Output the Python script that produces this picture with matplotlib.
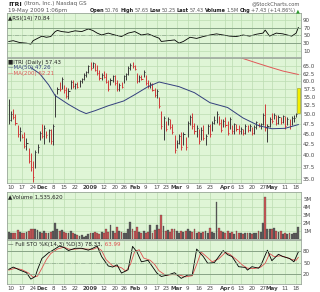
import matplotlib
matplotlib.use('Agg')
import matplotlib.pyplot as plt
import numpy as np
import pandas as pd

# trading calendar 7-Nov-2008 .. 19-May-2009
holidays = ['2008-11-27', '2008-12-25', '2009-01-01', '2009-01-19',
            '2009-02-16', '2009-04-10']
days = pd.bdate_range('2008-11-07', '2009-05-19', freq='C', holidays=holidays)

high = [54.3, 51.0, 51.4, 50.0, 47.1, 46.7, 45.0, 45.4, 43.8, 41.5,
        40.4, 38.7, 41.2, 42.6, 45.7, 47.4, 47.1, 45.7, 46.2, 46.2,
        47.4, 55.8, 58.2, 59.7, 61.4, 58.8, 58.2, 57.7, 60.4, 60.4,
        59.3, 59.8, 60.4, 61.0, 62.7, 63.3, 65.6, 66.8, 66.8, 66.2,
        65.6, 63.8, 62.7, 63.3, 62.7, 60.4, 61.0, 62.1, 62.1, 60.4,
        59.3, 59.8, 62.1, 62.7, 65.0, 66.2, 66.8, 65.6, 62.7, 62.1,
        62.1, 63.8, 62.1, 60.4, 59.8, 59.3, 57.7, 57.3, 55.1, 51.0,
        49.6, 48.3, 49.2, 48.7, 47.4, 44.6, 43.4, 45.0, 45.4, 45.4,
        44.2, 48.3, 49.9, 50.4, 47.8, 47.1, 46.2, 46.6, 47.1, 45.0,
        47.4, 47.4, 48.3, 49.6, 51.0, 49.6, 48.7, 48.7, 49.2, 48.3,
        49.2, 47.1, 47.8, 47.4, 47.1, 46.6, 46.2, 47.4, 47.1, 47.4,
        46.6, 47.1, 48.3, 47.8, 47.8, 50.4, 52.8, 47.4, 49.2, 50.4,
        50.4, 49.9, 49.9, 49.2, 49.9, 49.6, 49.2, 48.7, 49.6, 49.8,
        50.4, 57.65]
low = [47.4, 48.3, 48.7, 47.1, 44.2, 43.1, 43.8, 41.5, 41.2, 38.3,
       36.7, 34.4, 37.3, 40.4, 43.4, 43.8, 42.6, 44.0, 42.9, 42.6,
       42.3, 49.2, 55.8, 56.8, 57.3, 56.3, 54.8, 54.3, 57.3, 57.7,
       57.3, 57.7, 58.2, 59.3, 60.4, 61.4, 62.7, 63.8, 64.4, 63.3,
       62.1, 60.4, 60.4, 61.0, 59.3, 56.8, 58.8, 59.7, 58.8, 56.8,
       56.8, 57.7, 59.3, 60.4, 62.1, 63.8, 64.4, 63.8, 59.3, 59.7,
       60.4, 61.4, 58.8, 57.7, 57.7, 56.8, 55.1, 54.8, 51.9, 46.2,
       43.4, 45.7, 47.1, 46.2, 45.0, 40.4, 41.5, 42.6, 41.2, 42.3,
       41.2, 44.2, 47.1, 46.2, 45.0, 44.2, 42.6, 43.4, 43.4, 42.3,
       45.0, 44.2, 45.7, 47.4, 47.8, 47.1, 45.4, 46.6, 46.6, 44.6,
       46.2, 45.0, 45.0, 45.7, 45.0, 45.0, 44.6, 45.0, 45.4, 45.7,
       44.6, 45.0, 46.2, 46.6, 46.2, 47.1, 45.7, 42.9, 46.6, 47.8,
       48.7, 47.1, 47.4, 47.4, 47.8, 46.2, 47.1, 46.2, 47.1, 48.0,
       49.2, 50.25]
close = [48.5, 50.2, 49.3, 47.6, 44.8, 45.5, 44.2, 42.0, 42.8, 38.8,
         37.4, 35.5, 40.6, 41.9, 45.2, 44.3, 46.4, 44.6, 45.8, 43.1,
         46.9, 55.2, 57.6, 57.4, 60.6, 57.0, 55.4, 56.9, 59.8, 58.4,
         58.9, 58.2, 60.0, 60.6, 62.2, 62.9, 65.1, 64.4, 66.2, 63.8,
         62.6, 61.0, 62.1, 61.5, 59.8, 57.3, 60.5, 61.6, 59.3, 57.4,
         58.6, 58.0, 61.7, 62.3, 64.6, 65.7, 65.0, 64.2, 60.0, 61.4,
         60.8, 63.2, 59.4, 58.3, 59.2, 57.2, 55.6, 56.7, 52.4, 46.8,
         48.9, 46.2, 48.6, 46.7, 45.4, 41.0, 42.8, 44.5, 41.8, 44.9,
         41.7, 47.8, 49.4, 47.0, 45.6, 46.5, 43.2, 46.0, 44.0, 44.5,
         46.9, 45.0, 47.8, 48.5, 50.2, 47.6, 46.0, 48.2, 47.1, 45.2,
         48.7, 45.6, 47.3, 46.2, 45.5, 46.2, 45.1, 46.9, 45.9, 47.0,
         45.2, 46.6, 47.9, 47.0, 47.5, 49.9, 46.5, 47.0, 48.8, 48.3,
         49.8, 47.6, 49.3, 47.9, 49.5, 46.8, 48.6, 46.8, 48.9, 49.0,
         50.0, 57.43]
volume_m = [0.9, 0.8, 0.7, 0.8, 1.1, 0.9, 0.7, 0.8, 0.9, 1.0,
            1.2, 1.3, 1.3, 1.1, 0.9, 0.8, 1.0, 0.7, 0.8, 0.9,
            1.0, 2.0, 1.3, 1.0, 1.1, 0.9, 0.8, 0.7, 1.0, 0.8,
            0.6, 0.5, 0.4, 0.5, 0.3, 0.4, 0.6, 0.7, 0.8, 0.9,
            0.7, 0.6, 0.9, 0.8, 1.3, 0.9, 1.7, 1.0, 0.8, 1.5,
            1.0, 0.9, 0.8, 0.7, 1.2, 2.1, 1.2, 1.0, 1.5, 0.9,
            0.8, 1.0, 0.7, 0.9, 1.7, 0.8, 1.1, 1.7, 1.2, 3.0,
            1.6, 1.0, 1.1, 0.9, 1.2, 1.3, 1.0, 0.8, 1.0, 0.9,
            1.0, 1.3, 1.0, 0.9, 1.2, 0.8, 0.9, 0.8, 0.9, 1.0,
            0.8, 1.4, 0.9, 0.8, 4.6, 1.4, 1.0, 0.9, 0.8, 1.0,
            0.7, 0.9, 0.6, 1.0, 0.7, 0.8, 0.6, 0.7, 0.8, 0.7,
            0.6, 0.8, 0.7, 1.0, 0.9, 2.0, 5.2, 1.3, 1.2, 1.2,
            1.4, 1.0, 0.9, 1.0, 0.6, 0.7, 0.6, 0.7, 0.6, 0.8,
            0.8, 1.54]

ma50_day = [10, 14, 18, 21, 27, 32, 35, 39, 45, 52, 57, 63, 68, 77, 84, 91,
            99, 106, 113, 119, 125, 131]
ma50_val = [64.6, 62.5, 58.8, 55.4, 52.8, 51.0, 50.2, 51.0, 52.4, 53.8, 55.7,
            58.2, 59.7, 58.2, 56.3, 53.3, 51.9, 49.0, 47.0, 46.2, 46.3, 47.26]
ma200_day = [100, 106, 112, 118, 124, 131]
ma200_val = [69.6, 67.9, 66.3, 64.8, 63.4, 62.21]

rsi_day = [0, 2, 5, 8, 10, 11, 13, 15, 17, 19, 21, 22, 24, 27, 30, 33, 36, 38,
           40, 42, 45, 48, 51, 54, 57, 60, 63, 66, 68, 69, 72, 75, 77, 79, 82,
           85, 88, 91, 94, 97, 100, 103, 106, 109, 112, 115, 116, 118, 121,
           124, 128, 130, 131]
rsi_val = [34, 36, 31, 29.5, 27, 36, 42, 48, 45, 47, 60, 63, 60, 58, 62, 60, 67,
           63, 56, 51, 56, 51, 47, 56, 60, 51, 54, 47, 42.5, 34, 36, 38, 29.5,
           34, 45, 42, 47, 51, 54, 51, 48, 47, 51, 48, 53, 56, 64, 48, 56, 54,
           48, 56, 70.84]

k_day = [0, 2, 5, 8, 10, 12, 13, 15, 18, 20, 23, 25, 27, 30, 33, 36, 38, 40,
         42, 45, 47, 49, 51, 54, 56, 58, 60, 63, 65, 67, 69, 72, 75, 78, 81,
         83, 85, 88, 90, 93, 97, 99, 101, 104, 107, 108, 110, 113, 114, 117,
         119, 122, 124, 127, 129, 131]
k_val = [32, 38, 30, 23, 6, 13, 31, 61, 76, 83, 94, 90, 82, 88, 88, 83, 88, 94,
         66, 41, 38, 44, 22, 31, 93, 78, 52, 56, 39, 22, 13, 17, 23, 8, 17, 17,
         86, 66, 48, 50, 82, 71, 66, 39, 37, 30, 39, 35, 42, 83, 55, 72, 66,
         61, 52, 78.33]
d_day = [0, 3, 6, 9, 11, 13, 15, 17, 19, 22, 25, 27, 29, 32, 35, 38, 40, 42,
         44, 47, 49, 51, 53, 55, 57, 59, 61, 64, 66, 68, 71, 74, 77, 80, 83,
         85, 87, 89, 92, 95, 98, 100, 103, 106, 108, 111, 114, 116, 118, 120,
         123, 125, 128, 130, 131]
d_val = [30, 35, 31, 22, 11, 14, 35, 58, 74, 86, 91, 86, 85, 87, 86, 85, 90, 82,
         58, 41, 40, 36, 27, 45, 80, 84, 62, 56, 45, 28, 16, 18, 17, 12, 15, 45,
         78, 68, 52, 60, 77, 72, 58, 42, 35, 34, 38, 48, 74, 66, 68, 65, 58, 56,
         63.99]

tick_dates = ['2008-11-10', '2008-11-17', '2008-11-24', '2008-12-01',
              '2008-12-08', '2008-12-15', '2008-12-22', '2009-01-02',
              '2009-01-12', '2009-01-20', '2009-01-26', '2009-02-02',
              '2009-02-09', '2009-02-17', '2009-02-23', '2009-03-02',
              '2009-03-09', '2009-03-16', '2009-03-23', '2009-04-01',
              '2009-04-06', '2009-04-13', '2009-04-20', '2009-04-27',
              '2009-05-01', '2009-05-11', '2009-05-18']
tick_labels = ['10', '17', '24', 'Dec', '8', '15', '22', '2009', '12', '20',
               '26', 'Feb', '9', '17', '23', 'Mar', '9', '16', '23', 'Apr', '6',
               '13', '20', '27', 'May', '11', '18']
price_ticks = [35.0, 37.5, 40.0, 42.5, 45.0, 47.5, 50.0, 52.5, 55.0, 57.5,
               60.0, 62.5, 65.0]

W, H = 320, 292
BG = '#dff5d6'
GRID = '#bcdcb2'
FS = 4.0

idx = np.arange(len(close))
xt = days.searchsorted(pd.to_datetime(tick_dates))
prev = np.r_[close[0], close[:-1]]
up = np.array(close) >= prev
bar_col = np.where(up, '#3a3a3a', '#d03a3a')


def px_axes(fig, x0, y0, x1, y1):
    return fig.add_axes([x0 / W, 1 - y1 / H, (x1 - x0) / W, (y1 - y0) / H])


def style(ax, yticks, ylabels, xlabels=False):
    ax.set_facecolor(BG)
    ax.set_xlim(-0.8, len(close) + 0.2)
    for s in ax.spines.values():
        s.set_color('#9aa79a')
        s.set_linewidth(0.6)
    ax.set_xticks(xt)
    ax.xaxis.grid(True, color=GRID, lw=0.5)
    ax.set_yticks(yticks)
    ax.set_yticks([], minor=True)
    ax.set_yticklabels(ylabels)
    ax.yaxis.grid(True, color=GRID, lw=0.5)
    ax.set_axisbelow(True)
    ax.yaxis.tick_right()
    ax.tick_params(length=0, labelsize=FS, colors='#444', pad=1.5)
    if xlabels:
        ax.set_xticklabels(tick_labels)
        for t in ax.get_xticklabels():
            if not t.get_text().isdigit() or t.get_text() == '2009':
                t.set_fontweight('bold')
    else:
        ax.set_xticklabels([])


fig = plt.figure(figsize=(W / 100, H / 100), dpi=100)

# RSI panel
ax_rsi = px_axes(fig, 7, 13, 301, 57)
ax_rsi.plot(rsi_day, rsi_val, color='black', lw=0.6)
for lvl in (70, 30):
    ax_rsi.axhline(lvl, color='#7f9a7f', lw=0.6)
ax_rsi.axhline(50, color='#8fa88f', lw=0.5, ls='-.')
ax_rsi.set_ylim(-7, 109)
style(ax_rsi, [10, 30, 50, 70, 90], ['10', '30', '50', '70', '90'])
ax_rsi.text(0.005, 0.93, '\u25b2RSI(14) 70.84', transform=ax_rsi.transAxes,
            fontsize=FS, va='top', color='#222')

# price panel
ax_p = px_axes(fig, 7, 58, 301, 183)
ax_p.set_yscale('log')
ax_p.vlines(idx[:-1], low[:-1], high[:-1], colors=bar_col[:-1], lw=0.7)
ax_p.hlines(close[:-1], idx[:-1], idx[:-1] + 0.5, colors=bar_col[:-1], lw=0.7)
ax_p.bar(idx[-1], high[-1] - low[-1], bottom=low[-1], width=1.3,
         color='#f2ef00', edgecolor='#9a9a20', lw=0.4)
ax_p.plot(ma50_day, ma50_val, color='#34407e', lw=0.7)
ax_p.plot(ma200_day, ma200_val, color='#e05858', lw=0.7)
ax_p.set_ylim(34.3, 68.1)
style(ax_p, price_ticks, ['%.1f' % v for v in price_ticks], xlabels=True)
ax_p.text(0.005, 0.985, '\u25a0ITRI (Daily) 57.43', transform=ax_p.transAxes,
          fontsize=FS, va='top', color='#222')
ax_p.text(0.005, 0.94, '\u2014MA(50) 47.26', transform=ax_p.transAxes,
          fontsize=FS, va='top', color='#34407e')
ax_p.text(0.005, 0.895, '\u2014MA(200) 62.21', transform=ax_p.transAxes,
          fontsize=FS, va='top', color='#e05858')

# volume panel
ax_v = px_axes(fig, 7, 192, 301, 239)
vol_col = np.where(up, '#5e5e5e', '#cf5656')
ax_v.bar(idx, volume_m, width=0.85, color=vol_col, edgecolor='#3a3a3a', lw=0.2)
ax_v.set_ylim(0, 5.85)
style(ax_v, [1, 2, 3, 4, 5], ['1M', '2M', '3M', '4M', '5M'])
ax_v.text(0.005, 0.95, '\u25b2Volume 1,535,620', transform=ax_v.transAxes,
          fontsize=FS, va='top', color='#222')

# stochastics panel
ax_s = px_axes(fig, 7, 240, 301, 284)
ax_s.plot(d_day, d_val, color='#e05050', lw=0.6)
ax_s.plot(k_day, k_val, color='black', lw=0.6)
for lvl in (80, 20):
    ax_s.axhline(lvl, color='#7f9a7f', lw=0.6)
ax_s.axhline(50, color='#8fa88f', lw=0.5, ls='-.')
ax_s.set_ylim(-7, 110)
style(ax_s, [20, 50, 80], ['20', '50', '80'], xlabels=True)
t1 = ax_s.text(0.005, 0.95, '\u2014 Full STO %K(14,3) %D(3) 78.33,',
               transform=ax_s.transAxes, fontsize=FS, va='top', color='#222')

fig.canvas.draw()
rend = fig.canvas.get_renderer()


def chain(x, y, pieces, right=False, gap=1.2):
    made = []
    for txt, bold, size, col in pieces:
        t = fig.text(x / W, 1 - y / H, txt, fontsize=size, va='center',
                     color=col, fontweight='bold' if bold else 'normal')
        made.append(t)
        x += t.get_window_extent(rend).width + gap
    if right:
        shift = (x - gap) - right
        for t in made:
            px, py = t.get_position()
            t.set_position((px - shift / W, py))


# header
chain(8, 4, [('ITRI', True, FS + 0.5, '#222'),
             ('(Itron, Inc.) Nasdaq GS', False, FS, '#555')], gap=2.0)
fig.text(8 / W, 1 - 10.5 / H, '19-May 2009 1:06pm', fontsize=FS, va='center',
         color='#555')
fig.text(300 / W, 1 - 3.5 / H, '@StockCharts.com', fontsize=FS - 0.3,
         ha='right', va='center', color='#555')
HS = 3.6
chain(0, 10.5, [('Open', True, HS, '#222'), ('50.76', False, HS, '#555'),
                ('High', True, HS, '#222'), ('57.65', False, HS, '#555'),
                ('Low', True, HS, '#222'), ('50.25', False, HS, '#555'),
                ('Last', True, HS, '#222'), ('57.43', False, HS, '#555'),
                ('Volume', True, HS, '#222'), ('1.5M', False, HS, '#555'),
                ('Chg', True, HS, '#222'),
                ('+7.43 (+14.86%)', False, HS, '#555'),
                ('\u25b2', False, HS, '#2a9a2a')], right=300, gap=0.9)

bb = t1.get_window_extent(rend)
fig.text(bb.x1 / W, bb.y1 / H, ' 63.99', fontsize=FS, va='top', color='#e05050')

fig.savefig('out.png', dpi=100, facecolor='white')
